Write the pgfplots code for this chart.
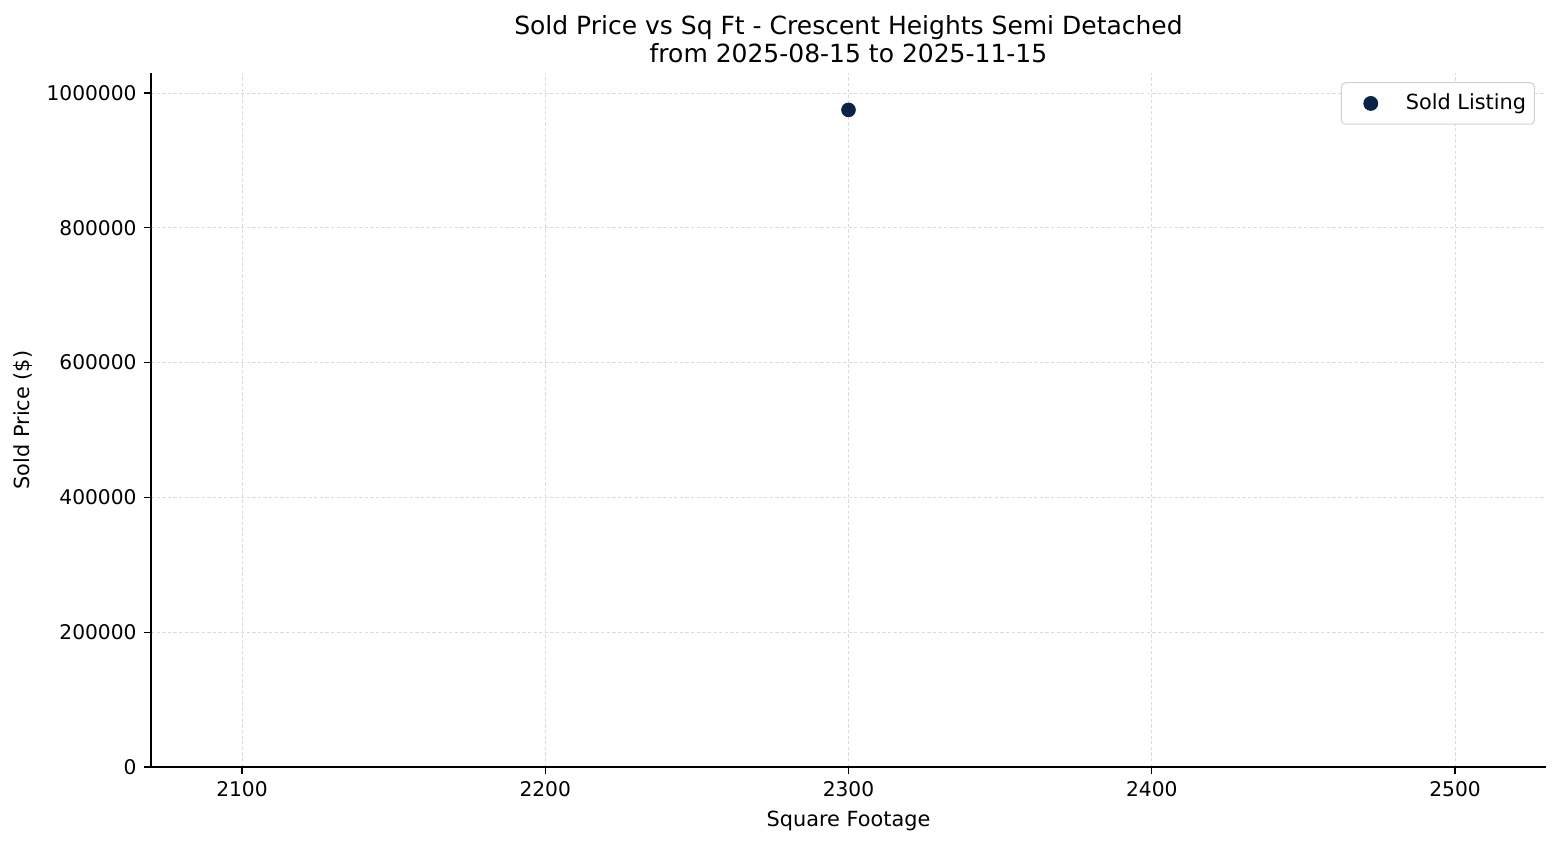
\documentclass[border=0pt]{standalone}
\usepackage{fontspec}
\setmainfont{DejaVu Sans}
\usepackage{pgfplots}
\pgfplotsset{compat=1.18}
\definecolor{navy}{RGB}{10,35,70}
\begin{document}
\begin{tikzpicture}
\begin{axis}[
    scale only axis,
    width=669.6pt, height=333.1pt,
    title={Sold Price vs Sq Ft - Crescent Heights Semi Detached\\from 2025-08-15 to 2025-11-15},
    title style={align=center, font=\fontsize{12}{13.5}\selectfont, yshift=-4.8pt},
    xlabel={Square Footage},
    ylabel={Sold Price (\$)},
    label style={font=\fontsize{10}{12}\selectfont},
    tick label style={font=\fontsize{9.7}{11}\selectfont},
    xmin=2070, xmax=2530,
    ymin=0, ymax=1029700,
    xtick={2100,2200,2300,2400,2500},
    ytick={0,200000,400000,600000,800000,1000000},
    scaled y ticks=false,
    /pgf/number format/fixed,
    /pgf/number format/1000 sep={},
    /pgf/number format/assume math mode=true,
    axis x line*=bottom,
    axis y line*=left,
    axis line style={line width=0.6pt, -},
    tick align=outside,
    tick style={line width=0.6pt, black},
    major tick length=3.4pt,
    grid=major,
    major grid style={dash pattern=on 1.6pt off 1.1pt, gray!28, line width=0.4pt},
    legend style={at={(1,1)}, anchor=north east, xshift=-5.3pt, yshift=-4.4pt,
        draw=gray!35, line width=0.5pt,
        rounded corners=2pt, font=\fontsize{10}{12}\selectfont,
        inner xsep=2pt, inner ysep=3.4pt},
    legend cell align=left,
    legend image code/.code={\path (0pt,0pt) (26.5pt,0pt);
        \draw[#1] plot coordinates {(11.9pt,0pt)};},
    ]
\addplot[only marks, mark=*, mark size=3.3pt, color=navy, mark options={draw=navy, fill=navy}]
    coordinates {(2300,975000)};
\addlegendentry{Sold Listing}
\end{axis}
\pgfresetboundingbox
\path[use as bounding box] (-72.48pt,-37.44pt) rectangle (676.32pt,368.16pt);
\end{tikzpicture}
\end{document}
